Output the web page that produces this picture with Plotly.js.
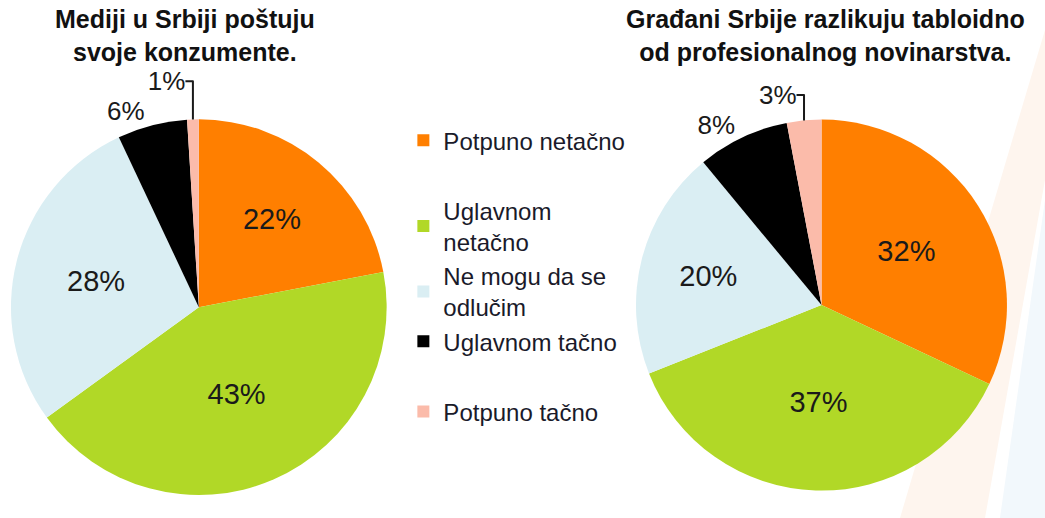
<!DOCTYPE html>
<html>
<head>
<meta charset="utf-8">
<script src="https://cdn.plot.ly/plotly-3.0.1.min.js"></script>
<style>
html,body{margin:0;padding:0;background:#fff;}
#chart{width:1045px;height:518px;}
</style>
</head>
<body>
<div id="chart"></div>
<script>
const categories = ["Potpuno netačno", "Uglavnom netačno", "Ne mogu da se odlučim", "Uglavnom tačno", "Potpuno tačno"];
const legendLabels = ["Potpuno netačno", "Uglavnom<br>netačno", "Ne mogu da se<br>odlučim", "Uglavnom tačno", "Potpuno tačno"];
const colors = ["#FF7F00", "#B1D827", "#DAEEF3", "#000000", "#FBBBAA"];
const valuesMediji = [22, 43, 28, 6, 1];
const valuesGradjani = [32, 37, 20, 8, 3];
const titleMediji = "Mediji u Srbiji poštuju<br>svoje konzumente.";
const titleGradjani = "Građani Srbije razlikuju tabloidno<br>od profesionalnog novinarstva.";
const legendGroups = ["a", "b", "b", "b", "c"];

const textPos = v => v.map(x => x < 10 ? "outside" : "inside");

function pieTrace(values, domain) {
  return {
    type: "pie",
    labels: categories,
    values: values,
    sort: false,
    direction: "clockwise",
    rotation: 0,
    marker: {colors: colors, line: {width: 0}},
    texttemplate: "%{value}%",
    textinfo: "text",
    textposition: textPos(values),
    insidetextorientation: "horizontal",
    textfont: {family: "Liberation Sans, Arial, sans-serif", size: 29, color: "#1a1a1a"},
    outsidetextfont: {family: "Liberation Sans, Arial, sans-serif", size: 26, color: "#1a1a1a"},
    showlegend: false,
    hoverinfo: "label+percent",
    domain: domain
  };
}

const data = [
  pieTrace(valuesMediji, {x: [0.0105, 0.370], y: [0.044, 0.770]}),
  pieTrace(valuesGradjani, {x: [0.6086, 0.9636], y: [0.050, 0.772]})
];

categories.forEach((c, i) => {
  data.push({
    type: "scatter",
    x: [null], y: [null],
    mode: "markers",
    name: legendLabels[i],
    legendgroup: legendGroups[i],
    marker: {symbol: "square", size: 11, color: colors[i]},
    showlegend: true,
    hoverinfo: "skip"
  });
});

const px = x => x / 1045, py = y => 1 - y / 518;
const poly = pts => "M " + pts.map(p => px(p[0]) + "," + py(p[1])).join(" L ") + " Z";

const layout = {
  width: 1045, height: 518,
  margin: {l: 0, r: 0, t: 0, b: 0},
  paper_bgcolor: "#ffffff",
  plot_bgcolor: "rgba(0,0,0,0)",
  xaxis: {visible: false, range: [0, 1]},
  yaxis: {visible: false, range: [0, 1]},
  showlegend: true,
  legend: {
    x: 0.386, xanchor: "left",
    y: 0.772, yanchor: "top",
    font: {family: "Liberation Sans, Arial, sans-serif", size: 24, color: "#1a1a2a"},
    tracegroupgap: 36,
    itemsizing: "constant",
    bgcolor: "rgba(0,0,0,0)"
  },
  shapes: [
    {type: "path", xref: "paper", yref: "paper", layer: "below", line: {width: 0},
     fillcolor: "#FEF5EE", path: poly([[1045, 30], [1045, 180], [985, 518], [900, 518]])},
    {type: "path", xref: "paper", yref: "paper", layer: "below", line: {width: 0},
     fillcolor: "#F2F8FC", path: poly([[1045, 200], [1045, 518], [1000, 518]])}
  ],
  annotations: [
    {text: "<b>" + titleMediji + "</b>", x: 0.177, y: 1 - 36/518, xref: "paper", yref: "paper",
     xanchor: "center", yanchor: "middle", showarrow: false,
     font: {family: "Liberation Sans, Arial, sans-serif", size: 25, color: "#111"}},
    {text: "<b>" + titleGradjani + "</b>", x: 0.790, y: 1 - 36/518, xref: "paper", yref: "paper",
     xanchor: "center", yanchor: "middle", showarrow: false,
     font: {family: "Liberation Sans, Arial, sans-serif", size: 25, color: "#111"}}
  ]
};

Plotly.newPlot("chart", data, layout, {displayModeBar: false, staticPlot: true});
</script>
</body>
</html>
